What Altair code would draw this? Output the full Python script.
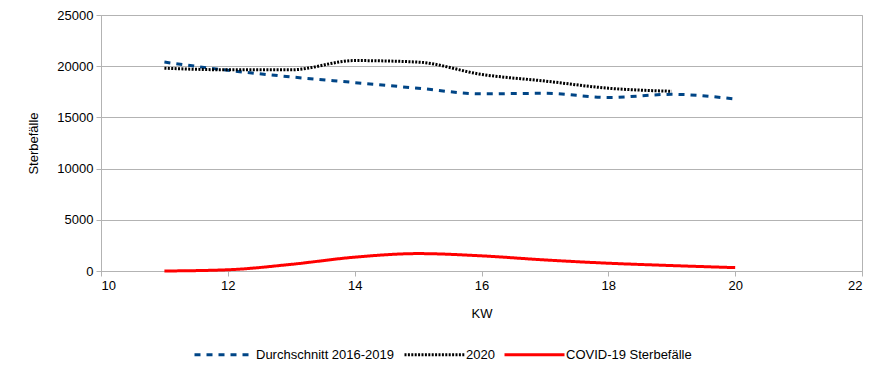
import altair as alt
import pandas as pd

kw = [11, 12, 13, 14, 15, 16, 17, 18, 19, 20]
avg_2016_2019 = [20400, 19600, 18950, 18400, 17850, 17300, 17350, 16950, 17250, 16800]
kw_2020 = [11, 12, 13, 14, 15, 16, 17, 18, 19]
deaths_2020 = [19800, 19650, 19650, 20550, 20400, 19200, 18550, 17850, 17550]
covid = [0, 120, 650, 1350, 1700, 1480, 1080, 760, 530, 330]

series = ["Durchschnitt 2016-2019", "2020", "COVID-19 Sterbefälle"]
colors = ["#004586", "#000000", "#ff0000"]
dashes = [[6, 6], [2, 1.4], [1, 0]]

rows = []
for k, v in zip(kw, avg_2016_2019):
    rows.append({"KW": k, "value": v, "series": series[0]})
for k, v in zip(kw_2020, deaths_2020):
    rows.append({"KW": k, "value": v, "series": series[1]})
for k, v in zip(kw, covid):
    rows.append({"KW": k, "value": v, "series": series[2]})
df = pd.DataFrame(rows)

font = "Liberation Sans"
grey = "#b3b3b3"

chart = alt.Chart(df).mark_line(interpolate="monotone", strokeWidth=3, strokeCap="butt").encode(
    x=alt.X("KW:Q", title="KW", scale=alt.Scale(domain=[10, 22], nice=False),
            axis=alt.Axis(values=[10, 12, 14, 16, 18, 20, 22], grid=False, tickSize=5,
                          labelPadding=3, titlePadding=15, format="d")),
    y=alt.Y("value:Q", title="Sterbefälle", scale=alt.Scale(domain=[0, 25000], nice=False),
            axis=alt.Axis(values=[0, 5000, 10000, 15000, 20000, 25000], grid=True, tickSize=5,
                          labelPadding=3, titlePadding=16, format="d")),
    color=alt.Color("series:N", sort=series,
                    scale=alt.Scale(domain=series, range=colors),
                    legend=alt.Legend(title=None, orient="none", legendX=92, legendY=308,
                                      direction="horizontal", symbolType="stroke",
                                      symbolSize=3600, symbolStrokeWidth=3,
                                      labelFont=font, labelFontSize=13, labelColor="#000000",
                                      columnPadding=3, labelOffset=0)),
    strokeDash=alt.StrokeDash("series:N", sort=series,
                              scale=alt.Scale(domain=series, range=dashes), legend=None),
    detail="series:N",
).properties(
    width=761, height=256,
    autosize=alt.AutoSizeParams(type="none"),
    padding={"left": 93, "top": 7, "right": 17, "bottom": 91},
).configure_view(
    stroke=grey, strokeWidth=1
).configure_axis(
    domainColor=grey, tickColor=grey, gridColor=grey, gridWidth=1,
    labelFont=font, labelFontSize=13, labelColor="#000000",
    titleFont=font, titleFontSize=13, titleFontWeight="normal", titleColor="#000000",
)

chart.save("out.html", embed_options={"renderer": "svg", "actions": False})
